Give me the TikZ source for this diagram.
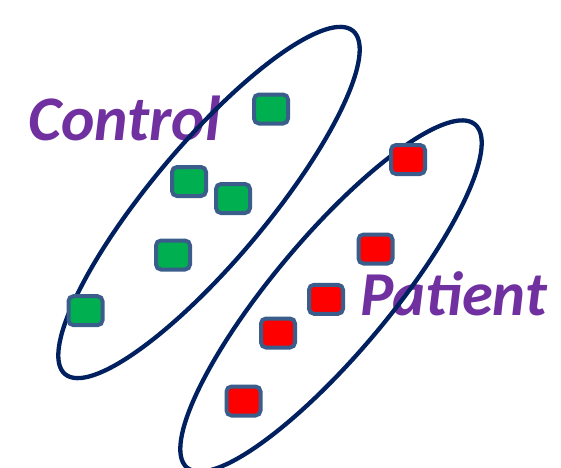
\documentclass[tikz,border=0pt]{standalone}
\usepackage{fontspec}
\setmainfont{Carlito}
\definecolor{navyline}{HTML}{002060}
\definecolor{boxedge}{HTML}{3A5D8C}
\definecolor{ctrlgreen}{HTML}{00B050}
\definecolor{patred}{HTML}{FF0000}
\definecolor{labelpurple}{HTML}{7030A0}
\tikzset{
  sample/.style={rectangle, rounded corners=5pt, minimum width=34pt, minimum height=29pt,
    inner sep=0pt, line width=4pt, draw=boxedge},
  ctrlbox/.style={sample, fill=ctrlgreen},
  patbox/.style={sample, fill=patred},
  grouplabel/.style={anchor=base west, inner sep=0pt, text=labelpurple},
  groupring/.style={draw=navyline, line width=4.3pt}
}
\begin{document}
\begin{tikzpicture}[x=1pt,y=1pt]
\useasboundingbox (0,0) rectangle (561,467);
% labels
\node[grouplabel, font=\fontsize{63.5}{72}\selectfont\bfseries\itshape] (control) at (28,327) {Control};
\node[grouplabel, font=\fontsize{62.5}{72}\selectfont\bfseries\itshape] (patient) at (360,152) {Patient};
% ellipses
\draw[groupring, rotate around={50:(209,264.5)}] (209,264.5) ellipse (224pt and 58pt);
\draw[groupring, rotate around={50:(331,171)}] (331,171) ellipse (224pt and 58pt);
% control samples
\node[ctrlbox] (g1) at (271,358) {};
\node[ctrlbox] (g2) at (189,285.5) {};
\node[ctrlbox] (g3) at (233,268.5) {};
\node[ctrlbox] (g4) at (173,212) {};
\node[ctrlbox] (g5) at (85.5,156.3) {};
% patient samples
\node[patbox] (r1) at (408,307.5) {};
\node[patbox] (r2) at (375.5,218) {};
\node[patbox] (r3) at (326,167.7) {};
\node[patbox] (r4) at (278,134) {};
\node[patbox] (r5) at (243.5,66) {};
\end{tikzpicture}
\end{document}
